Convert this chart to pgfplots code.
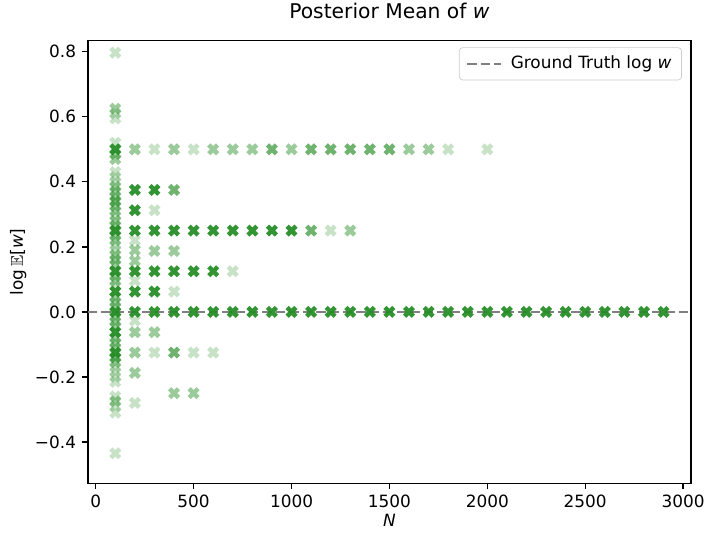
\documentclass[border=0pt]{standalone}
\usepackage{pgfplots}
\pgfplotsset{compat=1.18}
\usepackage{pgfplotstable}
\usepackage{amssymb}
\usepackage{fontspec}
\setmainfont{DejaVu Sans}

\definecolor{fgreen}{RGB}{34,139,34}
\definecolor{gtgray}{RGB}{128,128,128}

% filled "X" marker, like matplotlib's 'X'
\pgfdeclareplotmark{Xfill}{%
  \pgftransformrotate{45}%
  \pgfpathmoveto{\pgfqpoint{-0.36\pgfplotmarksize}{-\pgfplotmarksize}}%
  \pgfpathlineto{\pgfqpoint{0.36\pgfplotmarksize}{-\pgfplotmarksize}}%
  \pgfpathlineto{\pgfqpoint{0.36\pgfplotmarksize}{-0.36\pgfplotmarksize}}%
  \pgfpathlineto{\pgfqpoint{\pgfplotmarksize}{-0.36\pgfplotmarksize}}%
  \pgfpathlineto{\pgfqpoint{\pgfplotmarksize}{0.36\pgfplotmarksize}}%
  \pgfpathlineto{\pgfqpoint{0.36\pgfplotmarksize}{0.36\pgfplotmarksize}}%
  \pgfpathlineto{\pgfqpoint{0.36\pgfplotmarksize}{\pgfplotmarksize}}%
  \pgfpathlineto{\pgfqpoint{-0.36\pgfplotmarksize}{\pgfplotmarksize}}%
  \pgfpathlineto{\pgfqpoint{-0.36\pgfplotmarksize}{0.36\pgfplotmarksize}}%
  \pgfpathlineto{\pgfqpoint{-\pgfplotmarksize}{0.36\pgfplotmarksize}}%
  \pgfpathlineto{\pgfqpoint{-\pgfplotmarksize}{-0.36\pgfplotmarksize}}%
  \pgfpathlineto{\pgfqpoint{-0.36\pgfplotmarksize}{-0.36\pgfplotmarksize}}%
  \pgfpathclose
  \pgfusepathqfill
}

% points grouped by how dark they look (light, medium, medium-dark, dark)
\pgfplotstableread{
x y
100 0.797
100 0.61
100 0.595
100 0.52
100 0.43
100 0.415
100 0.40
100 0.295
100 0.205
100 0.19
100 0.08
100 -0.17
100 -0.185
100 -0.20
100 -0.215
100 -0.26
100 -0.29
100 -0.31
100 -0.435
200 0.22
200 0.096
200 -0.027
200 -0.28
300 0.5
300 0.3125
300 -0.125
400 0.0625
500 0.5
500 -0.125
600 -0.125
700 0.125
1200 0.25
1800 0.5
2000 0.5
}\lightpts

\pgfplotstableread{
x y
100 0.625
100 0.485
100 0.47
100 0.385
100 0.37
100 0.355
100 0.325
100 0.31
100 0.28
100 0.265
100 0.235
100 0.22
100 0.175
100 0.16
100 0.145
100 0.11
100 0.095
100 0.045
100 0.03
100 0.015
100 -0.015
100 -0.03
100 -0.045
100 -0.08
100 -0.095
100 -0.11
100 -0.155
100 -0.275
200 0.5
200 0.19
200 0.157
200 -0.0625
200 -0.125
200 -0.1875
300 0.1875
300 -0.0625
400 0.5
400 0.1875
400 -0.25
500 -0.25
600 0.5
700 0.5
800 0.5
1000 0.5
1300 0.25
1600 0.5
1700 0.5
}\medpts

\pgfplotstableread{
x y
100 0.34
100 -0.14
400 0.375
400 -0.125
900 0.5
1100 0.5
1200 0.5
1300 0.5
1400 0.5
1500 0.5
1100 0.25
}\mdpts

\pgfplotstableread{
x y
100 0.5
100 0.25
100 0.125
100 0.0625
100 0
100 -0.0625
100 -0.125
200 0.375
200 0.3125
200 0.25
200 0.125
200 0.0625
300 0.375
300 0.25
300 0.125
300 0.0625
400 0.25
400 0.125
500 0.25
500 0.125
600 0.25
600 0.125
700 0.25
800 0.25
900 0.25
1000 0.25
200 0
300 0
400 0
500 0
600 0
700 0
800 0
900 0
1000 0
1100 0
1200 0
1300 0
1400 0
1500 0
1600 0
1700 0
1800 0
1900 0
2000 0
2100 0
2200 0
2300 0
2400 0
2500 0
2600 0
2700 0
2800 0
2900 0
}\darkpts

\begin{document}
\begin{tikzpicture}[trim right=366.5pt]
\begin{axis}[
    scale only axis,
    width=357pt, height=262pt,
    xmin=-40, xmax=3040,
    ymin=-0.527, ymax=0.834,
    xtick={0,500,...,3000},
    ytick={-0.4,-0.2,0,0.2,0.4,0.6,0.8},
    yticklabels={−0.4,−0.2,0.0,0.2,0.4,0.6,0.8},
    /pgf/number format/assume math mode=true,
    /pgf/number format/1000 sep={},
    tick pos=left,
    tick align=outside,
    major tick length=3.5pt,
    tick style={black, line width=0.8pt},
    axis line style={line width=0.8pt},
    ticklabel style={font=\fontsize{10}{12}\selectfont},
    xlabel={\textit{N}},
    xlabel shift=-3pt,
    ylabel={log$\,\mathbb{E}$[\textit{w}]},
    ylabel style={inner ysep=6pt},
    ylabel shift=-4.5pt,
    label style={font=\fontsize{10}{12}\selectfont},
    title={Posterior Mean of \textit{w}},
    title style={font=\fontsize{12}{14}\selectfont, inner ysep=2pt, yshift=4.6pt},
    legend style={at={(0.985,0.985)}, anchor=north east,
      draw=black!20, rounded corners=2pt, fill=white, fill opacity=0.8,
      text opacity=1, font=\fontsize{10}{12}\selectfont,
      inner xsep=4pt, inner ysep=3pt},
    legend cell align=left,
    legend image code/.code={\draw[#1] (0pt,0pt) -- (20pt,0pt);},
    legend style={/tikz/every even column/.append style={column sep=2pt}},
  ]
\addplot[only marks, mark=Xfill, mark size=3.7pt, color=fgreen,
  mark options={fill opacity=0.25}, forget plot] table {\lightpts};
\addplot[only marks, mark=Xfill, mark size=3.7pt, color=fgreen,
  mark options={fill opacity=0.45}, forget plot] table {\medpts};
\addplot[only marks, mark=Xfill, mark size=3.7pt, color=fgreen,
  mark options={fill opacity=0.65}, forget plot] table {\mdpts};
\addplot[only marks, mark=Xfill, mark size=3.7pt, color=fgreen,
  mark options={fill opacity=0.92}, forget plot] table {\darkpts};
\addplot[gtgray, line width=1.5pt, dash pattern=on 5.55pt off 2.4pt]
  coordinates {(-40,0) (3040,0)};
\addlegendentry{\hspace{3pt}Ground Truth log \textit{w}}
\end{axis}
\end{tikzpicture}
\end{document}
